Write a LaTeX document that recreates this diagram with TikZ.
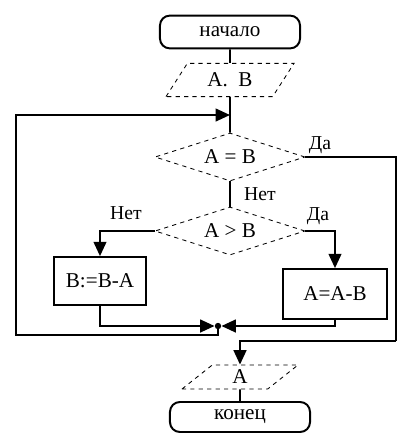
\documentclass[tikz,border=0pt]{standalone}
\usepackage{fontspec}
\setmainfont{Liberation Serif}
\usetikzlibrary{shapes.geometric, arrows.meta, positioning}

\begin{document}
\begin{tikzpicture}[
  x=0.025cm, y=-0.025cm, font=\fontsize{15}{17}\selectfont,
  term/.style={draw, line width=1.4pt, rounded corners=7pt, minimum width=3.5cm,
               minimum height=0.82cm},
  io/.style={draw, dashed, line width=0.6pt, trapezium, trapezium left angle=60,
             trapezium right angle=120, trapezium stretches=true},
  cond/.style={draw, dashed, line width=0.6pt, diamond, aspect=3, minimum width=3.75cm,
               minimum height=1.2cm, inner sep=0pt},
  proc/.style={draw, line width=1.2pt, minimum height=1.2cm, inner xsep=2pt, align=center},
  line/.style={line width=1.4pt},
  arr/.style={line, -{Triangle[length=3.6mm, width=3.2mm]}},
  lbl/.style={font=\fontsize{14}{16}\selectfont},
]
\useasboundingbox (0,0) rectangle (399,437);

\node[term] (start) at (230,32) {начало};
\node[io, minimum width=3.2cm, minimum height=0.83cm] (inAB) at (230,80) {A.\ \ B};
\node[cond] (eq) at (230,157) {A = B};
\node[cond] (gt) at (230,231) {A > B};
\node[proc, minimum width=2.3cm] (subB) at (100,281) {B:=B-A};
\node[proc, minimum width=2.6cm, minimum height=1.25cm] (subA) at (335,294) {A=A-B};
\node[io, minimum width=2.9cm, minimum height=0.6cm] (outA) at (240,377) {A};
\node[term, minimum height=0.75cm] (stop) at (240,417) {конец};

\node[circle, fill, inner sep=1.6pt] (jn) at (218,326) {};
\coordinate (merge) at (230,115);
\coordinate (lt) at (16,115);
\coordinate (lb) at (16,335);
\coordinate (rt) at (396,157);
\coordinate (rb) at (396,341);

\node[lbl] (yes1) at (320,145) {Да};
\node[lbl] (no1) at (260,194) {Нет};
\node[lbl] (no2) at (126,213) {Нет};
\node[lbl] (yes2) at (318,216) {Да};

% main column
\draw[line] (start) -- (inAB);
\draw[line] (inAB) -- (eq);
\draw[line] (eq) -- (gt);

% branches of A > B
\draw[arr] (gt.west) -| (subB.north);
\draw[arr] (gt.east) -| (subA.north);
\draw[arr] (subB.south) |- (jn);
\draw[arr] (subA.south) |- (jn);

% back to the test
\draw[arr] (jn) |- (lb) -- (lt) -- (merge);

% exit
\draw[line] (eq.east) -- (rt) -- (rb);
\draw[arr] (rb) -| (outA.north);
\draw[line] (outA) -- (stop);
\end{tikzpicture}
\end{document}
